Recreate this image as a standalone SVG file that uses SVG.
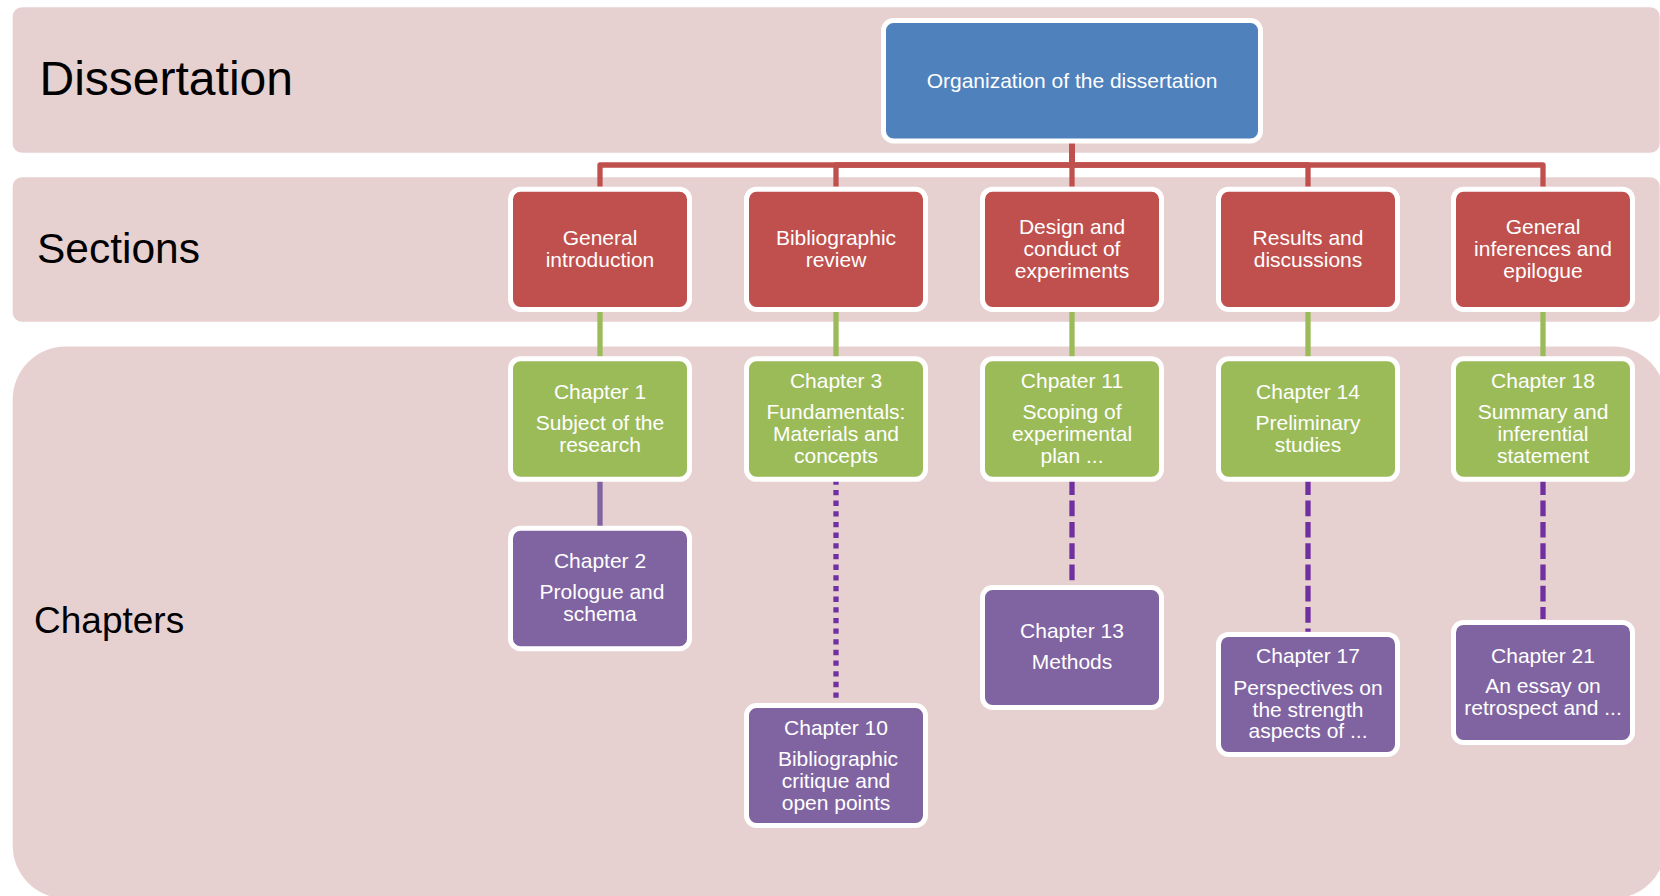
<svg xmlns="http://www.w3.org/2000/svg" width="1660" height="896" viewBox="0 0 1660 896">
<style>
.band{fill:#E7D0D0}
.lbl{font-family:"Liberation Sans",Arial,sans-serif;fill:#000}
.box{stroke:#fff;stroke-width:5}
.blue{fill:#4F81BD}
.red{fill:#C0504D}
.green{fill:#9BBB59}
.purple{fill:#8064A2}
.t{font-family:"Liberation Sans",Arial,sans-serif;font-size:21px;fill:#fff;text-anchor:middle}
.cr{fill:none;stroke:#C0504D;stroke-width:5.3;stroke-linejoin:round}
.cg{fill:none;stroke:#9BBB59;stroke-width:5.3}
.cp{fill:none;stroke:#8064A2;stroke-width:5.3}
.cdot{fill:none;stroke:#7030A0;stroke-width:5.3;stroke-dasharray:5.33 5.33}
.cdash{fill:none;stroke:#7030A0;stroke-width:5.3;stroke-dasharray:15.7 5.6}
</style>
<g id="bands">
<rect class="band" x="12.7" y="7.3" width="1647" height="145.4" rx="9"/>
<rect class="band" x="12.7" y="177.3" width="1647" height="144.4" rx="9"/>
<rect class="band" x="12.7" y="346.5" width="1653" height="552" rx="53"/>
<text class="lbl" x="39.5" y="95" font-size="48">Dissertation</text>
<text class="lbl" x="37" y="263" font-size="42.5">Sections</text>
<text class="lbl" x="34" y="633" font-size="37">Chapters</text>
</g>
<g id="connectors">
<path class="cr" d="M1072,141.7 V165 H600 V186.7"/>
<path class="cr" d="M1072,141.7 V165 H836 V186.7"/>
<path class="cr" d="M1072,141.7 V186.7"/>
<path class="cr" d="M1072,141.7 V165 H1308 V186.7"/>
<path class="cr" d="M1072,141.7 V165 H1543 V186.7"/>
<path class="cg" d="M600,311 V357"/>
<path class="cg" d="M836,311 V357"/>
<path class="cg" d="M1072,311 V357"/>
<path class="cg" d="M1308,311 V357"/>
<path class="cg" d="M1543,311 V357"/>
<path class="cp" d="M600,481 V526"/>
<path class="cdot" d="M836,479.3 V698.3"/>
<path class="cdash" d="M1072,479.3 V585"/>
<path class="cdash" d="M1308,479.3 V631.7"/>
<path class="cdash" d="M1543,479.3 V619"/>
</g>
<g id="n-root">
<rect class="box blue" x="883.5" y="20.5" width="377" height="120.5" rx="10"/>
<text class="t" x="1072" y="88">Organization of the dissertation</text>
</g>
<g id="n-s1">
<rect class="box red" x="510.5" y="189.2" width="179" height="120.3" rx="10"/>
<text class="t" x="600" y="245">General</text>
<text class="t" x="600" y="267">introduction</text>
</g>
<g id="n-s2">
<rect class="box red" x="746.5" y="189.2" width="179" height="120.3" rx="10"/>
<text class="t" x="836" y="245">Bibliographic</text>
<text class="t" x="836" y="267">review</text>
</g>
<g id="n-s3">
<rect class="box red" x="982.5" y="189.2" width="179" height="120.3" rx="10"/>
<text class="t" x="1072" y="234">Design and</text>
<text class="t" x="1072" y="256">conduct of</text>
<text class="t" x="1072" y="278">experiments</text>
</g>
<g id="n-s4">
<rect class="box red" x="1218.5" y="189.2" width="179" height="120.3" rx="10"/>
<text class="t" x="1308" y="245">Results and</text>
<text class="t" x="1308" y="267">discussions</text>
</g>
<g id="n-s5">
<rect class="box red" x="1453.5" y="189.2" width="179" height="120.3" rx="10"/>
<text class="t" x="1543" y="234">General</text>
<text class="t" x="1543" y="256">inferences and</text>
<text class="t" x="1543" y="278">epilogue</text>
</g>
<g id="n-ch1">
<rect class="box green" x="510.5" y="358.7" width="179" height="120.6" rx="10"/>
<text class="t" x="600" y="399">Chapter 1</text>
<text class="t" x="600" y="430">Subject of the</text>
<text class="t" x="600" y="452">research</text>
</g>
<g id="n-ch3">
<rect class="box green" x="746.5" y="358.7" width="179" height="120.6" rx="10"/>
<text class="t" x="836" y="388">Chapter 3</text>
<text class="t" x="836" y="419">Fundamentals:</text>
<text class="t" x="836" y="441">Materials and</text>
<text class="t" x="836" y="463">concepts</text>
</g>
<g id="n-ch11">
<rect class="box green" x="982.5" y="358.7" width="179" height="120.6" rx="10"/>
<text class="t" x="1072" y="388">Chpater 11</text>
<text class="t" x="1072" y="419">Scoping of</text>
<text class="t" x="1072" y="441">experimental</text>
<text class="t" x="1072" y="463">plan ...</text>
</g>
<g id="n-ch14">
<rect class="box green" x="1218.5" y="358.7" width="179" height="120.6" rx="10"/>
<text class="t" x="1308" y="399">Chapter 14</text>
<text class="t" x="1308" y="430">Preliminary</text>
<text class="t" x="1308" y="452">studies</text>
</g>
<g id="n-ch18">
<rect class="box green" x="1453.5" y="358.7" width="179" height="120.6" rx="10"/>
<text class="t" x="1543" y="388">Chapter 18</text>
<text class="t" x="1543" y="419">Summary and</text>
<text class="t" x="1543" y="441">inferential</text>
<text class="t" x="1543" y="463">statement</text>
</g>
<g id="n-ch2">
<rect class="box purple" x="510.5" y="528.2" width="179" height="120.5" rx="10"/>
<text class="t" x="600" y="568">Chapter 2</text>
<text class="t" x="602" y="599">Prologue and</text>
<text class="t" x="600" y="621">schema</text>
</g>
<g id="n-ch10">
<rect class="box purple" x="746.5" y="705.5" width="179" height="120" rx="10"/>
<text class="t" x="836" y="735">Chapter 10</text>
<text class="t" x="838" y="766">Bibliographic</text>
<text class="t" x="836" y="788">critique and</text>
<text class="t" x="836" y="810">open points</text>
</g>
<g id="n-ch13">
<rect class="box purple" x="982.5" y="587.5" width="179" height="120" rx="10"/>
<text class="t" x="1072" y="638">Chapter 13</text>
<text class="t" x="1072" y="669">Methods</text>
</g>
<g id="n-ch17">
<rect class="box purple" x="1218.5" y="634.4" width="179" height="120" rx="10"/>
<text class="t" x="1308" y="663">Chapter 17</text>
<text class="t" x="1308" y="695">Perspectives on</text>
<text class="t" x="1308" y="717">the strength</text>
<text class="t" x="1308" y="738">aspects of ...</text>
</g>
<g id="n-ch21">
<rect class="box purple" x="1453.5" y="622.4" width="179" height="120" rx="10"/>
<text class="t" x="1543" y="663">Chapter 21</text>
<text class="t" x="1543" y="693">An essay on</text>
<text class="t" x="1543" y="715">retrospect and ...</text>
</g>
</svg>
